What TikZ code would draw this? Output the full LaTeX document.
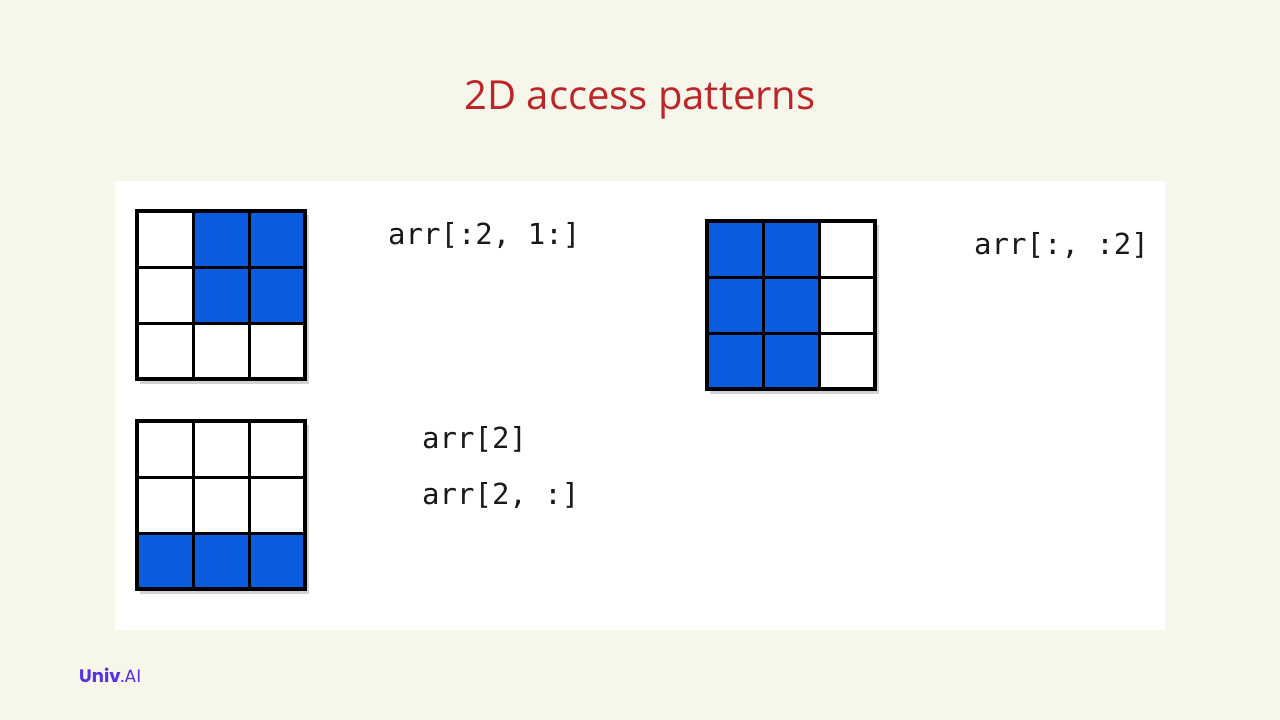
\documentclass[tikz,border=0pt]{standalone}
\usepackage{fontspec}
\setmainfont{Open Sans}
\newfontfamily\codefont{DejaVu Sans Mono}
\newfontfamily\logofont{Poppins}
\definecolor{bgc}{HTML}{F6F6EA}
\definecolor{titlered}{HTML}{BE2528}
\definecolor{cellblue}{HTML}{0A5CDC}
\definecolor{logopurple}{HTML}{5433E0}
\tikzset{
  codetext/.style={anchor=west, inner sep=0pt, font=\codefont\fontsize{29}{32}\selectfont, text=black!90},
  gridline/.style={line width=3pt, black},
  gridouter/.style={line width=4pt, black},
}
\newcommand{\drawgrid}[3]{%
  % #1 origin x, #2 origin y, #3 list of blue cells (col/row)
  \begin{scope}[shift={(#1,#2)}]
    \fill[black!35, opacity=0.5] (3,4) rectangle (172,173);
    \fill[white] (0,0) rectangle (168,168);
    \foreach \c/\r in {#3} {\fill[cellblue] (\c*56,\r*56) rectangle ++(56,56);}
    \foreach \k in {56,112} {\draw[gridline] (\k,0) -- (\k,168); \draw[gridline] (0,\k) -- (168,\k);}
    \draw[gridouter] (0,0) rectangle (168,168);
  \end{scope}}
\begin{document}
\begin{tikzpicture}[x=1pt,y=-1pt]
\useasboundingbox (0,0) rectangle (1280,720);
\fill[bgc] (0,0) rectangle (1280,720);
\fill[white] (115,181) rectangle (1165,630);
\node[font=\fontsize{40}{46}\selectfont, text=titlered] (title) at (640,100) {2D access patterns};
\drawgrid{137}{211}{1/0,2/0,1/1,2/1}
\drawgrid{137}{421}{0/2,1/2,2/2}
\drawgrid{707}{221}{0/0,1/0,0/1,1/1,0/2,1/2}
\node[codetext] (t1) at (388,236) {arr[:2, 1:]};
\node[codetext] (t2) at (422,439) {arr[2]};
\node[codetext] (t3) at (422,496) {arr[2, :]};
\node[codetext] (t4) at (974,246) {arr[:, :2]};
\node[anchor=west, inner sep=0pt, font=\logofont\fontsize{18}{20}\selectfont, text=logopurple] (logo) at (79,675) {\textbf{Univ}.AI};
\end{tikzpicture}
\end{document}
